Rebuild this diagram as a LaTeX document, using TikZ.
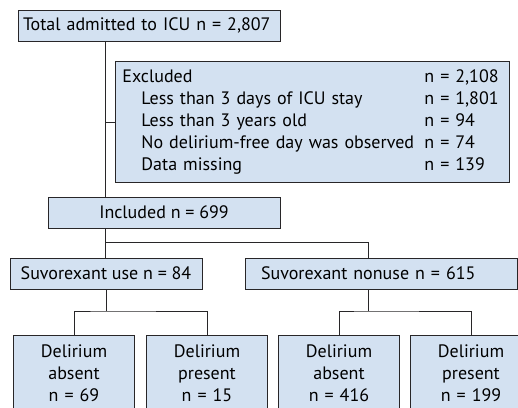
\documentclass[tikz,border=0pt]{standalone}
\usepackage{fontspec}
\setmainfont{PT Sans}
\usetikzlibrary{calc, positioning}

\definecolor{boxfill}{RGB}{211,225,241}
\definecolor{boxline}{RGB}{40,38,40}

\tikzset{
    flowbox/.style={draw=boxline, fill=boxfill, line width=0.9pt, minimum height=31pt,
        inner xsep=8pt, inner ysep=0pt, font=\fontsize{18}{22}\selectfont},
    leafbox/.style={flowbox, minimum width=121pt, text width=105pt, align=center,
        minimum height=76pt, anchor=north},
    link/.style={draw=boxline, line width=0.9pt}
}

\begin{document}
\begin{tikzpicture}[x=1pt, y=-1pt]
            \clip (0,0) rectangle (518,407);
            \useasboundingbox (0,0) rectangle (518,407);
            \def\trunk{105}  % x of the main vertical line
            \def\rowtop{335} % top of the outcome boxes
            % Main column
            \node[flowbox, minimum width=262pt, text width=252pt, inner xsep=5pt, align=left] (total) at (149,25.5) {Total admitted to ICU n = 2,807};
            \node[flowbox, anchor=north west, minimum width=394pt, text width=380pt, inner xsep=7pt, align=left, inner ysep=5.5pt] (excl) at (115,61) {%
                \begin{tabular}{@{}p{302pt}@{}l@{}}
                    Excluded & n = 2,108\\
                    \hspace*{19pt}Less than 3 days of ICU stay & n = 1,801\\
                    \hspace*{19pt}Less than 3 years old & n = 94\\
                    \hspace*{19pt}No delirium-free day was observed & n = 74\\
                    \hspace*{19pt}Data missing & n = 139
                \end{tabular}};
            \node[flowbox, minimum width=232pt] (incl) at (164,212.5) {Included n = 699};
            % Groups
            \node[flowbox, minimum width=192pt] (use) at (106,273.5) {Suvorexant use n = 84};
            \node[flowbox, minimum width=272pt, text width=240pt, inner xsep=16pt, align=left] (nonuse) at (381,273.5) {Suvorexant nonuse n = 615};
            % Outcomes
            \foreach \name/\x/\state/\n in {la/74/absent/69, lb/207/present/15, lc/339/absent/416, ld/471/present/199} {
                \node[leafbox] (\name) at (\x,\rowtop) {Delirium\\\state\\n = \n};
            };
            \coordinate (t) at (\trunk,0);
            \coordinate (split) at (368,242);
            \coordinate (usplit) at (106,311);
            \coordinate (nsplit) at (368,311);
            % Connectors
            \draw[link] (total.south -| t) -- (incl.north -| t);
            \draw[link] (excl.west) -- (excl.west -| t);
            \draw[link] (incl.south -| t) -- (t |- split) -- (split) -- (nonuse.north -| split);
            \draw[link] (t |- split) -- (use.north -| t);
            \draw[link] (use.south -| usplit) -- (usplit);
            \draw[link] (la.north) |- (usplit) -| (lb.north);
            \draw[link] (nonuse.south -| nsplit) -- (nsplit);
            \draw[link] (lc.north) |- (nsplit) -| (ld.north);
        \end{tikzpicture}
\end{document}
